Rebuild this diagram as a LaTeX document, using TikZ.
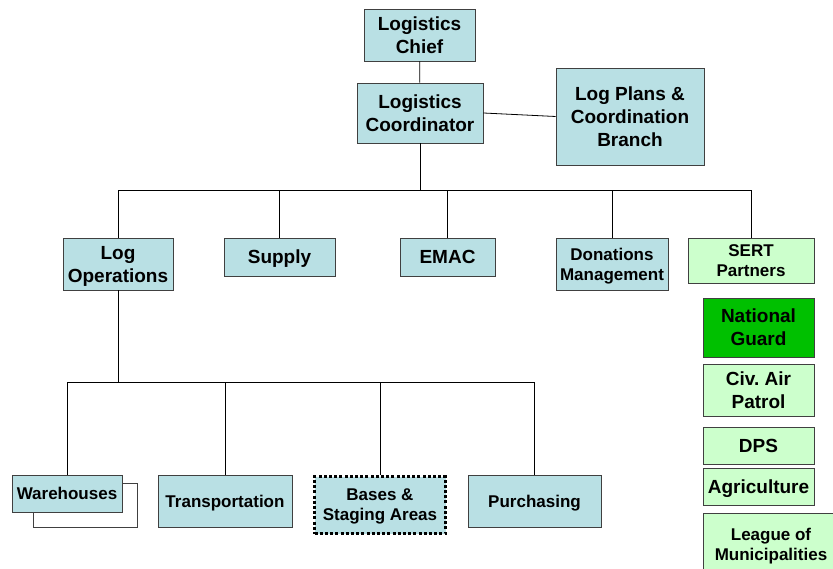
\documentclass[tikz,border=0pt]{standalone}
\usepackage{fontspec}
\setmainfont{Liberation Sans}
\definecolor{boxcyan}{RGB}{185,224,228}
\definecolor{boxgreen}{RGB}{204,255,204}
\definecolor{guardgreen}{RGB}{0,192,0}
\definecolor{edgegray}{RGB}{64,64,64}
\tikzset{
  base/.style={draw=edgegray, line width=0.8pt, align=center, inner sep=0pt, text depth=0pt,
    font=\bfseries\fontsize{19}{23}\selectfont},
  cy/.style={base, fill=boxcyan},
  gr/.style={base, fill=boxgreen},
  smalltext/.style={font=\bfseries\fontsize{17}{20}\selectfont},
  wire/.style={black, line width=0.8pt},
}
\begin{document}
\begin{tikzpicture}[x=1pt, y=-1pt]
\useasboundingbox (0,0) rectangle (833,569);
\clip (0,0) rectangle (833,569);
% top
\node[cy, minimum width=111, minimum height=52] (chief) at (419.5,35) {Logistics\\Chief};
\node[cy, minimum width=126, minimum height=60] (coord) at (420,113) {Logistics\\Coordinator};
\node[cy, minimum width=148, minimum height=97] (plans) at (630,116.5) {Log Plans \&\\Coordination\\Branch};
% row 2
\node[cy, minimum width=110, minimum height=52] (logops) at (118,264) {Log\\Operations};
\node[cy, minimum width=111, minimum height=38] (supply) at (279.5,257) {Supply};
\node[cy, minimum width=95, minimum height=38] (emac) at (447.5,257) {EMAC};
\node[cy, smalltext, minimum width=112, minimum height=52] (donations) at (612,264) {Donations\\Management};
\node[gr, smalltext, minimum width=126, minimum height=45] (sert) at (751,260.5) {SERT\\Partners};
% right column
\node[base, fill=guardgreen, minimum width=111, minimum height=59] (guard) at (758.5,327.5) {National\\Guard};
\node[gr, minimum width=111, minimum height=52] (civ) at (758.5,390) {Civ.\ Air\\Patrol};
\node[gr, minimum width=111, minimum height=37] (dps) at (758.5,445.5) {DPS};
\node[gr, minimum width=111, minimum height=37] (agri) at (758.5,486.5) {Agriculture};
\node[gr, smalltext, minimum width=136, minimum height=62] (league) at (771,544) {League of\\Municipalities};
% row 3
\node[base, fill=white, minimum width=104, minimum height=44] (whshadow) at (85,505) {};
\node[cy, smalltext, minimum width=110, minimum height=37] (warehouses) at (67,493.5) {Warehouses};
\node[cy, smalltext, minimum width=134, minimum height=52] (transport) at (225,501) {Transportation};
\node[cy, smalltext, draw=black, line width=3pt, dash pattern=on 3pt off 2.2pt,
  minimum width=131, minimum height=57] (bases) at (380,505) {Bases \&\\Staging Areas};
\node[cy, smalltext, minimum width=133, minimum height=52] (purchasing) at (534.5,501) {Purchasing};
% connectors
\coordinate (bus1) at (420,190);
\coordinate (bus2) at (119,382);
\draw[wire] (chief) -- (coord);
\draw[wire] (coord.east) -- (plans.west);
\draw[wire] (coord.south) -- (bus1);
\draw[wire] (logops.north) -- (logops.north |- bus1) -- (sert.north |- bus1) -- (sert.north);
\draw[wire] (supply.north) -- (supply.north |- bus1);
\draw[wire] (emac.north) -- (emac.north |- bus1);
\draw[wire] (donations.north) -- (donations.north |- bus1);
\draw[wire] (logops.south) -- (logops.south |- bus2);
\draw[wire] (warehouses.north) -- (warehouses.north |- bus2) -- (purchasing.north |- bus2) -- (purchasing.north);
\draw[wire] (transport.north) -- (transport.north |- bus2);
\draw[wire] (bases.north) -- (bases.north |- bus2);
\end{tikzpicture}
\end{document}
